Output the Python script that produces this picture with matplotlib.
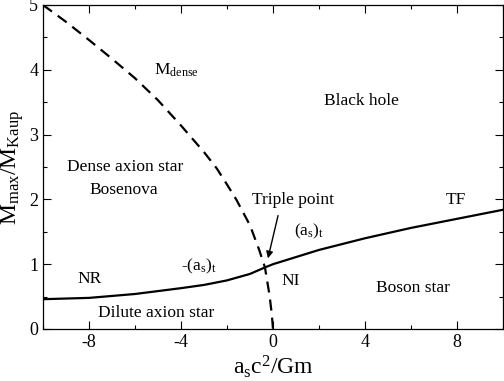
import numpy as np
import matplotlib
matplotlib.use("Agg")
import matplotlib.pyplot as plt

# values
x_solid = np.array([-10, -8, -6, -4, -3, -2, -1, -0.35, 0, 1, 2, 4, 6, 8, 10])
y_solid = np.array([0.46, 0.48, 0.54, 0.63, 0.68, 0.75, 0.85, 0.95, 1.0,
                    1.11, 1.22, 1.40, 1.56, 1.70, 1.84])

x_dense = np.array([-10, -9, -8, -7, -6, -5, -4, -3, -2.45, -2, -1.6,
                    -1.0, -0.6, -0.35, -0.15, -0.05, 0])
y_dense = np.array([5.0, 4.74, 4.46, 4.17, 3.87, 3.53, 3.14, 2.73, 2.48,
                    2.23, 2.0, 1.6, 1.22, 0.95, 0.52, 0.22, 0])

x_ticks = [-8, -4, 0, 4, 8]
y_ticks = [0, 1, 2, 3, 4, 5]

plt.rcParams['font.family'] = 'serif'
plt.rcParams['font.serif'] = ['Liberation Serif']
plt.rcParams['mathtext.fontset'] = 'custom'
plt.rcParams['mathtext.rm'] = 'Liberation Serif'
plt.rcParams['mathtext.it'] = 'Liberation Serif:italic'
plt.rcParams['axes.unicode_minus'] = False
plt.rcParams['xtick.direction'] = 'in'
plt.rcParams['ytick.direction'] = 'in'

fig = plt.figure(figsize=(5.04, 3.81), dpi=100)
ax = fig.add_axes([0.0853, 0.1365, 0.9127, 0.8504])

ax.plot(x_solid, y_solid, color='black', lw=1.6)
ax.plot(x_dense, y_dense, color='black', lw=1.6, linestyle=(0, (5, 3.2)))

ax.set_xlim(-10, 10)
ax.set_ylim(0, 5)
ax.set_xticks(x_ticks)
ax.set_yticks(y_ticks)
ax.set_xticks(np.arange(-10, 11, 2), minor=True)
ax.set_yticks(np.arange(0, 5.01, 0.5), minor=True)
ax.tick_params(which='both', top=True, right=True, labelsize=13, width=0.8)
ax.tick_params(which='major', length=6)
ax.tick_params(which='minor', length=3)
for s in ax.spines.values():
    s.set_linewidth(0.9)

ax.set_xlabel(r'$\mathrm{a_s c^2/Gm}$', fontsize=17, labelpad=2)
ax.set_ylabel(r'$\mathrm{M_{max}/M_{Kaup}}$', fontsize=17, labelpad=2)

fs = 12.5
ax.text(-4.2, 3.99, r'M$_{\mathrm{dense}}$', fontsize=fs, ha='center', va='center')
ax.text(3.83, 3.52, 'Black hole', fontsize=fs, ha='center', va='center')
ax.text(-6.41, 2.5, 'Dense axion star', fontsize=fs, ha='center', va='center')
ax.text(-6.5, 2.14, 'Bosenova', fontsize=fs, ha='center', va='center')
ax.text(0.87, 1.99, 'Triple point', fontsize=fs, ha='center', va='center')
ax.text(7.96, 1.99, 'TF', fontsize=fs, ha='center', va='center')
ax.text(1.57, 1.50, r'(a$_{\mathrm{s}}$)$_{\mathrm{t}}$', fontsize=fs, ha='center', va='center')
ax.text(-3.2, 0.96, r'-(a$_{\mathrm{s}}$)$_{\mathrm{t}}$', fontsize=fs, ha='center', va='center')
ax.text(-7.98, 0.77, 'NR', fontsize=fs, ha='center', va='center')
ax.text(0.78, 0.74, 'NI', fontsize=fs, ha='center', va='center')
ax.text(6.07, 0.63, 'Boson star', fontsize=fs, ha='center', va='center')
ax.text(-5.07, 0.24, 'Dilute axion star', fontsize=fs, ha='center', va='center')

ax.annotate('', xy=(-0.22, 1.09), xytext=(0.22, 1.75),
            arrowprops=dict(arrowstyle='-|>', color='black', lw=1.0,
                            mutation_scale=10, shrinkA=0, shrinkB=0))

fig.savefig('out.png', dpi=100)
